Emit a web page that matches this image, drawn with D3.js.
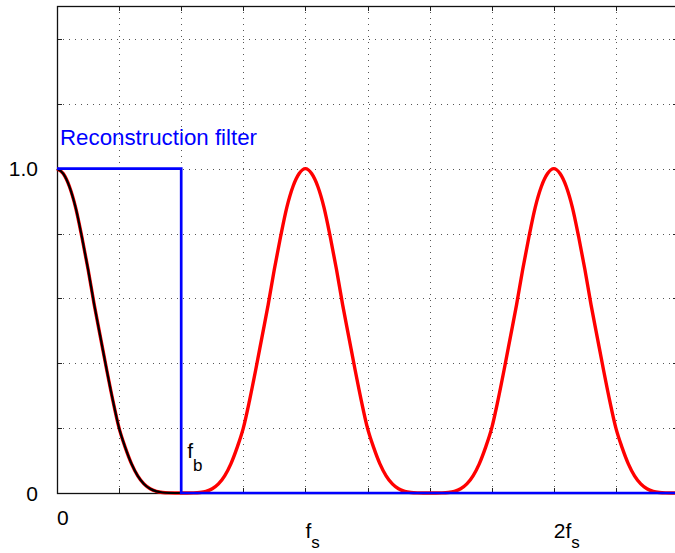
<!DOCTYPE html>
<html>
<head>
<meta charset="utf-8">
<script src="https://cdn.jsdelivr.net/npm/d3@7"></script>
<style>
  body { margin: 0; background: #fff; }
  svg { display: block; font-family: 'Liberation Sans', Arial, sans-serif; }
</style>
</head>
<body>
<div id="chart"></div>
<script>
// pulse shape: distance from a peak (in fs) -> height
var pulseOffsets = [0, 0.025, 0.05, 0.075, 0.1, 0.125, 0.15, 0.175, 0.2, 0.225, 0.25,
  0.275, 0.3, 0.325, 0.35, 0.375, 0.4, 0.425, 0.45, 0.475, 0.5];
var pulseValues = [1.0, 0.985, 0.945, 0.88, 0.79, 0.69, 0.58, 0.48, 0.38, 0.285, 0.2,
  0.14, 0.09, 0.053, 0.028, 0.013, 0.005, 0.0015, 0.0003, 0, 0];
var peakCenters = [0, 1, 2];          // baseband, fs, 2fs
var filterX = [0, 0.5, 0.5, 2.5];      // reconstruction filter corners
var filterY = [1, 1, 0, 0];
var xGrid = [0.25, 0.5, 0.75, 1, 1.25, 1.5, 1.75, 2, 2.25, 2.5];
var yGrid = [0.2, 0.4, 0.6, 0.8, 1.0, 1.2, 1.4];
var yLabels = [{v: 1.0, t: '1.0'}, {v: 0, t: '0'}];
var xLabels = [{v: 0, t: '0', sub: ''}, {v: 1, t: 'f', sub: 's'}, {v: 2, t: '2f', sub: 's'}];

(function () {
  'use strict';

  var width = 675, height = 553;
  var left = 57, right = 678, top = 6, bottom = 493;

  var x = d3.scaleLinear().domain([0, 2.5]).range([left, right]);
  var y = d3.scaleLinear().domain([0, 1.5]).range([bottom, top + 0.5]);

  var svg = d3.select('#chart').append('svg')
    .attr('width', width)
    .attr('height', height);

  // dotted grid
  svg.append('g').selectAll('line.vg')
    .data(xGrid.filter(function (d) { return d < 2.5; }))
    .enter().append('line')
    .attr('x1', function (d) { return Math.round(x(d)) + 0.5; })
    .attr('x2', function (d) { return Math.round(x(d)) + 0.5; })
    .attr('y1', top).attr('y2', bottom)
    .attr('stroke', '#555').attr('stroke-width', 1)
    .attr('stroke-dasharray', '1,5');
  svg.append('g').selectAll('line.hg')
    .data(yGrid)
    .enter().append('line')
    .attr('x1', left).attr('x2', right)
    .attr('y1', function (d) { return Math.round(y(d)) + 0.5; })
    .attr('y2', function (d) { return Math.round(y(d)) + 0.5; })
    .attr('stroke', '#555').attr('stroke-width', 1)
    .attr('stroke-dasharray', '1,5');

  // ticks on all four sides, pointing inward
  var tk = 5;
  var ticks = svg.append('g').attr('stroke', '#222').attr('stroke-width', 1);
  xGrid.forEach(function (d) {
    var xx = Math.round(x(d)) + 0.5;
    ticks.append('line').attr('x1', xx).attr('x2', xx).attr('y1', bottom).attr('y2', bottom - tk);
    ticks.append('line').attr('x1', xx).attr('x2', xx).attr('y1', top).attr('y2', top + tk);
  });
  yGrid.forEach(function (d) {
    var yy = Math.round(y(d)) + 0.5;
    ticks.append('line').attr('x1', left).attr('x2', left + tk).attr('y1', yy).attr('y2', yy);
    ticks.append('line').attr('x1', right).attr('x2', right - tk).attr('y1', yy).attr('y2', yy);
  });

  // axes box
  svg.append('rect')
    .attr('x', left + 0.5).attr('y', top + 0.5)
    .attr('width', right - left).attr('height', bottom - top)
    .attr('fill', 'none').attr('stroke', '#111').attr('stroke-width', 1.3);

  // build the spectrum points from the pulse shape around each peak
  var spectrum = [];
  peakCenters.forEach(function (c) {
    for (var i = pulseOffsets.length - 1; i > 0; i--) {
      var f = c - pulseOffsets[i];
      if (f >= 0 && (spectrum.length === 0 || f > spectrum[spectrum.length - 1].f)) {
        spectrum.push({f: f, v: pulseValues[i]});
      }
    }
    for (var j = 0; j < pulseOffsets.length; j++) {
      var g = c + pulseOffsets[j];
      if (g <= 2.5 && (spectrum.length === 0 || g > spectrum[spectrum.length - 1].f)) {
        spectrum.push({f: g, v: pulseValues[j]});
      }
    }
  });
  var baseband = pulseOffsets.map(function (d, i) { return {f: d, v: pulseValues[i]}; });

  var line = d3.line()
    .x(function (d) { return x(d.f); })
    .y(function (d) { return y(d.v); })
    .curve(d3.curveMonotoneX);

  svg.append('path')
    .datum(spectrum)
    .attr('d', line)
    .attr('fill', 'none').attr('stroke', '#ff0000').attr('stroke-width', 3.4);

  // baseband (filtered) spectrum, black over the red
  svg.append('path')
    .datum(baseband)
    .attr('d', line)
    .attr('fill', 'none').attr('stroke', '#000').attr('stroke-width', 2.2);

  var filterPts = filterX.map(function (d, i) { return {f: d, v: filterY[i]}; });
  svg.append('path')
    .datum(filterPts)
    .attr('d', d3.line().x(function (d) { return x(d.f); }).y(function (d) { return y(d.v); }))
    .attr('fill', 'none').attr('stroke', '#0000ff').attr('stroke-width', 2.7);

  // texts
  var fs = 21, subFs = 17;
  svg.append('text')
    .attr('x', 60).attr('y', 145)
    .attr('fill', '#0000ff').attr('font-size', 22.3)
    .text('Reconstruction filter');

  svg.selectAll('text.yl')
    .data(yLabels)
    .enter().append('text')
    .attr('x', 38).attr('y', function (d) { return y(d.v) + 7.5; })
    .attr('text-anchor', 'end').attr('font-size', fs)
    .text(function (d) { return d.t; });

  xLabels.forEach(function (d) {
    var t = svg.append('text')
      .attr('x', x(d.v))
      .attr('y', d.sub ? 538 : 525)
      .attr('font-size', fs)
      .text(d.t);
    if (d.sub) {
      t.append('tspan').attr('dy', 10).attr('font-size', subFs).text(d.sub);
    }
  });

  var fb = svg.append('text')
    .attr('x', x(0.5) + 6).attr('y', 458)
    .attr('font-size', fs).text('f');
  fb.append('tspan').attr('dy', 13).attr('font-size', subFs).text('b');
})();
</script>
</body>
</html>
